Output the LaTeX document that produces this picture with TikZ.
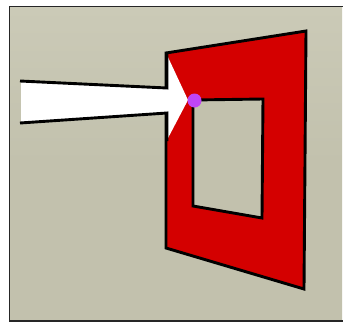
\documentclass[tikz,border=0pt]{standalone}
\begin{document}
\begin{tikzpicture}[x=1pt,y=-1pt,
  edge/.style={line width=2.9pt,black,line join=miter},
  bgfill/.style={fill=bgc}]
\definecolor{bgc}{HTML}{C2C1AD}
\definecolor{bgtop}{HTML}{CBCAB7}
\definecolor{redc}{HTML}{D40000}
\definecolor{dotc}{HTML}{BF45F5}
\useasboundingbox (0,0) rectangle (343,322);
\fill[white] (0,0) rectangle (343,322);
\shade[top color=bgtop,bottom color=bgc,middle color=bgc] (9.5,6.5) rectangle (342,321);
\draw[line width=1.6pt,black!85] (9.5,6.5) rectangle (343.5,321);
% red frame
\fill[redc,draw=black,line width=2.9pt] (166,53) coordinate (A) -- (306,31) coordinate (B) -- (304,289) coordinate (C) -- (166,248) coordinate (D) -- cycle;
\fill[bgc,draw=black,line width=2.9pt] (193,100) coordinate (E) -- (263,99) coordinate (F) -- (262,218) coordinate (G) -- (193,206) coordinate (H) -- cycle;
% arrow
\fill[white] (21,81) -- (167,88) -- (167,55) -- (188,100) -- (167,140) -- (167,113) -- (21,123) -- cycle;
\draw[edge] (20,81) -- (167,88) -- (167,53);
\draw[edge] (20,123) -- (167,113) -- (167,141);
% dot
\node[circle,fill=dotc,inner sep=0pt,minimum size=14pt] (dot) at (194.5,100.5) {};
\end{tikzpicture}
\end{document}
